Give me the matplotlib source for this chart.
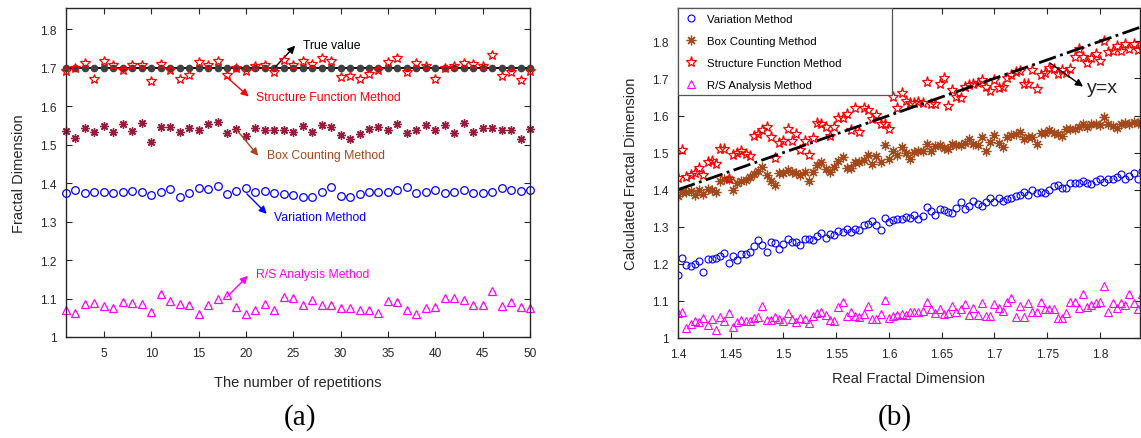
import numpy as np
import matplotlib.pyplot as plt
from matplotlib.patches import Rectangle

plt.rcParams['font.family'] = ['Liberation Sans', 'DejaVu Sans']

# ---- (a) repeated estimates, true dimension 1.7 ----
reps = np.arange(1, 51)
true_val = [1.7] * 50
structure_a = [1.691, 1.700, 1.712, 1.670, 1.716, 1.706, 1.693, 1.706, 1.706, 1.665,
               1.710, 1.695, 1.671, 1.682, 1.715, 1.708, 1.717, 1.681, 1.699, 1.691,
               1.704, 1.708, 1.688, 1.721, 1.708, 1.716, 1.710, 1.724, 1.716, 1.676,
               1.679, 1.671, 1.683, 1.694, 1.714, 1.726, 1.688, 1.711, 1.704, 1.671,
               1.698, 1.703, 1.713, 1.709, 1.704, 1.732, 1.678, 1.688, 1.667, 1.690]
box_a = [1.535, 1.518, 1.544, 1.532, 1.548, 1.534, 1.553, 1.535, 1.557, 1.506,
         1.545, 1.546, 1.532, 1.543, 1.537, 1.553, 1.560, 1.529, 1.541, 1.523,
         1.543, 1.539, 1.537, 1.539, 1.534, 1.548, 1.534, 1.550, 1.547, 1.526,
         1.514, 1.528, 1.540, 1.547, 1.539, 1.554, 1.530, 1.537, 1.550, 1.538,
         1.550, 1.530, 1.557, 1.532, 1.544, 1.544, 1.539, 1.537, 1.514, 1.540]
variation_a = [1.375, 1.382, 1.374, 1.377, 1.377, 1.375, 1.377, 1.380, 1.377, 1.369,
               1.378, 1.385, 1.365, 1.373, 1.386, 1.384, 1.392, 1.371, 1.380, 1.388,
               1.378, 1.380, 1.375, 1.372, 1.370, 1.365, 1.363, 1.378, 1.390, 1.367,
               1.365, 1.372, 1.378, 1.378, 1.378, 1.383, 1.389, 1.375, 1.378, 1.383,
               1.375, 1.377, 1.383, 1.373, 1.375, 1.377, 1.387, 1.382, 1.379, 1.383]
rs_a = [1.070, 1.062, 1.086, 1.089, 1.081, 1.076, 1.090, 1.089, 1.086, 1.065,
        1.112, 1.093, 1.086, 1.082, 1.060, 1.084, 1.100, 1.108, 1.079, 1.060,
        1.069, 1.086, 1.069, 1.104, 1.102, 1.084, 1.095, 1.084, 1.083, 1.075,
        1.076, 1.070, 1.071, 1.063, 1.093, 1.091, 1.069, 1.060, 1.076, 1.077,
        1.101, 1.101, 1.096, 1.083, 1.084, 1.120, 1.081, 1.090, 1.078, 1.075]

# ---- (b) estimates against real dimension ----
real_dim = np.round(1.4 + 0.004 * np.arange(111), 3)
variation_b = [1.171, 1.217, 1.197, 1.194, 1.199, 1.207, 1.177, 1.213, 1.214, 1.215,
               1.220, 1.229, 1.201, 1.222, 1.210, 1.226, 1.227, 1.233, 1.248, 1.263,
               1.251, 1.233, 1.259, 1.256, 1.241, 1.254, 1.268, 1.259, 1.260, 1.250,
               1.268, 1.268, 1.263, 1.274, 1.282, 1.269, 1.280, 1.278, 1.289, 1.286,
               1.295, 1.287, 1.295, 1.292, 1.306, 1.307, 1.316, 1.305, 1.292, 1.323,
               1.312, 1.318, 1.320, 1.321, 1.325, 1.323, 1.331, 1.322, 1.328, 1.352,
               1.342, 1.333, 1.347, 1.346, 1.339, 1.337, 1.350, 1.367, 1.349, 1.357,
               1.370, 1.361, 1.355, 1.367, 1.378, 1.368, 1.377, 1.369, 1.375, 1.378,
               1.383, 1.386, 1.395, 1.386, 1.398, 1.391, 1.393, 1.390, 1.399, 1.410,
               1.412, 1.405, 1.405, 1.419, 1.417, 1.419, 1.423, 1.417, 1.414, 1.424,
               1.430, 1.420, 1.428, 1.430, 1.435, 1.441, 1.430, 1.436, 1.446, 1.430,
               1.450]
box_b = [1.383, 1.395, 1.394, 1.397, 1.386, 1.399, 1.388, 1.401, 1.399, 1.395,
         1.424, 1.428, 1.428, 1.399, 1.417, 1.423, 1.426, 1.433, 1.441, 1.451,
         1.460, 1.439, 1.424, 1.412, 1.446, 1.444, 1.453, 1.448, 1.444, 1.439,
         1.448, 1.424, 1.448, 1.466, 1.475, 1.457, 1.448, 1.460, 1.478, 1.489,
         1.459, 1.459, 1.475, 1.475, 1.480, 1.493, 1.468, 1.491, 1.475, 1.520,
         1.484, 1.505, 1.493, 1.514, 1.498, 1.484, 1.502, 1.504, 1.505, 1.522,
         1.504, 1.518, 1.520, 1.513, 1.509, 1.523, 1.520, 1.520, 1.527, 1.536,
         1.522, 1.520, 1.541, 1.504, 1.529, 1.547, 1.527, 1.514, 1.543, 1.547,
         1.550, 1.556, 1.538, 1.541, 1.543, 1.523, 1.552, 1.552, 1.561, 1.554,
         1.550, 1.545, 1.565, 1.565, 1.565, 1.570, 1.576, 1.570, 1.576, 1.576,
         1.574, 1.595, 1.577, 1.572, 1.567, 1.576, 1.579, 1.577, 1.583, 1.579,
         1.581]
structure_b = [1.432, 1.508, 1.434, 1.439, 1.446, 1.459, 1.439, 1.475, 1.478, 1.469,
               1.509, 1.509, 1.430, 1.493, 1.498, 1.505, 1.496, 1.491, 1.545, 1.550,
               1.561, 1.568, 1.541, 1.486, 1.525, 1.532, 1.565, 1.532, 1.550, 1.508,
               1.532, 1.493, 1.540, 1.579, 1.576, 1.568, 1.545, 1.568, 1.594, 1.594,
               1.605, 1.561, 1.619, 1.556, 1.619, 1.614, 1.590, 1.601, 1.576, 1.576,
               1.565, 1.650, 1.619, 1.660, 1.640, 1.635, 1.635, 1.637, 1.633, 1.691,
               1.632, 1.630, 1.686, 1.700, 1.626, 1.668, 1.650, 1.646, 1.677, 1.682,
               1.684, 1.689, 1.696, 1.677, 1.666, 1.696, 1.675, 1.677, 1.702, 1.709,
               1.718, 1.720, 1.686, 1.684, 1.723, 1.671, 1.709, 1.716, 1.729, 1.725,
               1.713, 1.723, 1.716, 1.725, 1.759, 1.779, 1.758, 1.743, 1.756, 1.765,
               1.747, 1.801, 1.772, 1.774, 1.788, 1.774, 1.792, 1.779, 1.792, 1.776,
               1.779]
rs_b = [1.068, 1.071, 1.028, 1.039, 1.046, 1.042, 1.055, 1.035, 1.051, 1.022,
        1.057, 1.046, 1.068, 1.030, 1.043, 1.049, 1.047, 1.045, 1.053, 1.057,
        1.087, 1.048, 1.049, 1.057, 1.050, 1.047, 1.068, 1.050, 1.044, 1.053,
        1.050, 1.041, 1.060, 1.068, 1.069, 1.061, 1.049, 1.047, 1.084, 1.098,
        1.059, 1.069, 1.058, 1.057, 1.064, 1.087, 1.050, 1.051, 1.066, 1.102,
        1.055, 1.060, 1.061, 1.064, 1.061, 1.069, 1.071, 1.071, 1.073, 1.096,
        1.077, 1.068, 1.077, 1.064, 1.068, 1.087, 1.071, 1.077, 1.093, 1.062,
        1.080, 1.062, 1.095, 1.060, 1.060, 1.091, 1.080, 1.073, 1.098, 1.107,
        1.057, 1.086, 1.057, 1.095, 1.071, 1.069, 1.098, 1.077, 1.078, 1.077,
        1.053, 1.055, 1.068, 1.098, 1.098, 1.082, 1.120, 1.084, 1.089, 1.095,
        1.096, 1.140, 1.069, 1.095, 1.080, 1.095, 1.089, 1.120, 1.095, 1.077,
        1.118]

red = '#ff0000'
blue = '#0000ff'
magenta = '#ff00ff'
brown = '#a3491b'
maroon = '#9a1c3c'
axcol = '#262626'
asterisk = (8, 2, 0)

fig = plt.figure(figsize=(11.41, 4.39), dpi=100)
ax1 = fig.add_axes([66 / 1141, 1 - 338 / 439, 464 / 1141, 329 / 439])
ax2 = fig.add_axes([678 / 1141, 1 - 339 / 439, 462 / 1141, 330 / 439])


def style(ax):
    for s in ax.spines.values():
        s.set_color(axcol)
        s.set_linewidth(1.0)
    ax.tick_params(direction='in', top=True, right=True, length=4, width=0.8,
                   colors=axcol, labelsize=8.6, pad=7)


# panel (a)
ax1.plot(reps, true_val, '-o', color='black', lw=1.4, ms=4.5,
         mfc='#404040', mec='#404040', clip_on=False, zorder=3)
ax1.plot(reps, structure_a, '*', ms=7, mfc='none', mec=red, mew=0.9,
         clip_on=False, zorder=4)
ax1.plot(reps, box_a, ls='none', marker=asterisk, ms=6, mec=maroon, mew=1.0,
         clip_on=False)
ax1.plot(reps, variation_a, 'o', ms=5.5, mfc='none', mec=blue, mew=0.9,
         clip_on=False)
ax1.plot(reps, rs_a, '^', ms=5.5, mfc='none', mec=magenta, mew=0.9,
         clip_on=False)
ax1.set_xlim(1, 50)
ax1.set_ylim(1, 1.855)
ax1.set_xticks(range(5, 51, 5))
ax1.set_yticks(np.arange(1, 1.81, 0.1))
ax1.set_yticklabels(['%g' % round(v, 1) for v in np.arange(1, 1.81, 0.1)])
style(ax1)
ax1.set_xlabel('The number of repetitions', fontsize=10.5, color=axcol, labelpad=12)
ax1.set_ylabel('Fractal Dimension', fontsize=10.5, color=axcol, labelpad=10)

notes_a = [
    ('True value', 'black', (22.96, 1.698), (25.2, 1.757), (26.0, 1.760)),
    ('Structure Function Method', red, (17.9, 1.677), (20.3, 1.625), (21.1, 1.625)),
    ('Box Counting Method', brown, (19.0, 1.539), (21.3, 1.471), (22.2, 1.474)),
    ('Variation Method', blue, (20.1, 1.372), (22.2, 1.320), (23.0, 1.313)),
    ('R/S Analysis Method', magenta, (18.0, 1.104), (20.2, 1.159), (21.1, 1.164)),
]
for txt, c, tail, tip, pos in notes_a:
    ax1.annotate('', xy=tip, xytext=tail,
                 arrowprops=dict(arrowstyle='-|>', color=c, lw=1.0,
                                 mutation_scale=11, shrinkA=0, shrinkB=0))
    ax1.text(pos[0], pos[1], txt, color=c, fontsize=8.8, va='center', ha='left')

# panel (b)
ax2.plot(real_dim, variation_b, 'o', ms=5, mfc='none', mec=blue, mew=0.8,
         label='Variation Method')
ax2.plot(real_dim, box_b, ls='none', marker=asterisk, ms=7, mec=brown, mew=0.9,
         label='Box Counting Method')
ax2.plot(real_dim, structure_b, '*', ms=8, mfc='none', mec=red, mew=0.9,
         label='Structure Function Method')
ax2.plot(real_dim, rs_b, '^', ms=5.5, mfc='none', mec=magenta, mew=0.8,
         label='R/S Analysis Method')
xr = [real_dim[0], real_dim[-1]]
ax2.plot(xr, xr, '-.', color='black', lw=2.0)
ax2.annotate('', xy=(1.784, 1.678), xytext=(1.753, 1.741),
             arrowprops=dict(arrowstyle='-|>', color='black', lw=1.0,
                             mutation_scale=11, shrinkA=0, shrinkB=0))
ax2.text(1.788, 1.676, 'y=x', fontsize=14, color=axcol, va='center', ha='left')
ax2.set_xlim(1.4, 1.838)
ax2.set_ylim(1, 1.89)
ax2.set_xticks(np.arange(1.4, 1.801, 0.05))
ax2.set_xticklabels(['%g' % round(v, 2) for v in np.arange(1.4, 1.801, 0.05)])
ax2.set_yticks(np.arange(1, 1.81, 0.1))
ax2.set_yticklabels(['%g' % round(v, 1) for v in np.arange(1, 1.81, 0.1)])
style(ax2)
ax2.set_xlabel('Real Fractal Dimension', fontsize=10.5, color=axcol, labelpad=8)
ax2.set_ylabel('Calculated Fractal Dimension', fontsize=10.5, color=axcol, labelpad=10)
leg = ax2.legend(loc='upper left', bbox_to_anchor=(0.005, 0.995), borderaxespad=0,
                 frameon=False, fontsize=8.2,
                 handletextpad=0.8, labelspacing=1.05, borderpad=0.35,
                 handlelength=1.2)
ax2.add_patch(Rectangle((0, 0.736), 214 / 462, 0.264, transform=ax2.transAxes,
                        facecolor='white', edgecolor='#555555', lw=0.9,
                        zorder=4.5))
leg.set_zorder(5)

fig.text(300 / 1141, 1 - 418 / 439, '(a)', family='Liberation Serif',
         fontsize=21, ha='center', va='center')
fig.text(895 / 1141, 1 - 418 / 439, '(b)', family='Liberation Serif',
         fontsize=21, ha='center', va='center')

fig.savefig('out.png', dpi=100)
